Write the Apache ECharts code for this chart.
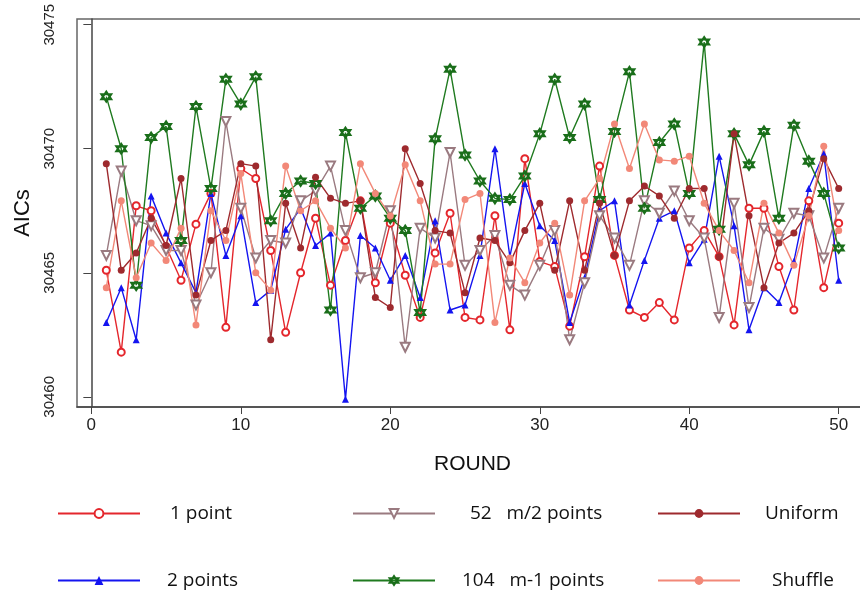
<!DOCTYPE html>
<html>
<head>
<meta charset="utf-8">
<script src="https://cdn.jsdelivr.net/npm/echarts@6/dist/echarts.min.js"></script>
<style>
  html, body { margin: 0; padding: 0; background: #fff; }
  #chart { width: 860px; height: 593px; }
</style>
</head>
<body>
<div id="chart"></div>
<script>
// Data
const rounds = [1, 2, 3, 4, 5, 6, 7, 8, 9, 10, 11, 12, 13, 14, 15, 16, 17, 18, 19, 20,
  21, 22, 23, 24, 25, 26, 27, 28, 29, 30, 31, 32, 33, 34, 35, 36, 37, 38, 39, 40,
  41, 42, 43, 44, 45, 46, 47, 48, 49, 50];

const onePoint = [30465.1, 30461.8, 30467.7, 30467.5, 30466.05, 30464.7, 30466.96, 30468.2, 30462.8, 30469.2,
  30468.8, 30465.9, 30462.6, 30465.0, 30467.2, 30464.5, 30466.3, 30467.9, 30464.6, 30467.0,
  30464.9, 30463.2, 30465.8, 30467.4, 30463.2, 30463.1, 30467.3, 30462.7, 30469.6, 30465.45,
  30465.25, 30462.85, 30465.65, 30469.3, 30465.7, 30463.5, 30463.2, 30463.8, 30463.1, 30466.0,
  30466.7, 30465.65, 30462.9, 30467.6, 30467.6, 30465.25, 30463.5, 30467.9, 30464.4, 30467.0];

const twoPoints = [30463.0, 30464.4, 30462.3, 30468.1, 30466.6, 30465.4, 30464.2, 30468.2, 30465.7, 30467.3,
  30463.8, 30464.3, 30466.75, 30467.6, 30466.1, 30466.6, 30459.9, 30466.5, 30466.0, 30464.7,
  30465.7, 30464.0, 30467.1, 30463.5, 30463.7, 30465.7, 30470.0, 30465.65, 30468.6, 30466.9,
  30466.3, 30463.0, 30464.8, 30467.5, 30467.9, 30463.7, 30465.5, 30467.2, 30467.5, 30465.4,
  30466.35, 30469.7, 30466.9, 30462.7, 30464.4, 30463.8, 30465.45, 30468.4, 30469.8, 30464.7];

const halfPoints = [30465.7, 30469.1, 30467.1, 30466.9, 30465.9, 30465.9, 30463.7, 30465.0, 30471.1, 30467.6,
  30465.6, 30466.3, 30466.2, 30467.9, 30468.3, 30469.3, 30466.7, 30464.8, 30465.0, 30467.5,
  30462.0, 30466.8, 30466.4, 30469.85, 30465.3, 30465.9, 30466.5, 30464.5, 30464.1, 30465.3,
  30466.7, 30462.3, 30464.6, 30467.3, 30466.4, 30465.3, 30467.9, 30467.4, 30468.3, 30467.1,
  30466.4, 30463.2, 30467.8, 30463.6, 30466.8, 30466.35, 30467.4, 30467.3, 30465.6, 30467.6];

const minusOnePoints = [30472.1, 30470.0, 30464.5, 30470.45, 30470.9, 30466.3, 30471.7, 30468.4, 30472.8, 30471.8,
  30472.9, 30467.1, 30468.2, 30468.7, 30468.6, 30463.5, 30470.65, 30467.6, 30468.1, 30467.2,
  30466.7, 30463.4, 30470.4, 30473.2, 30469.75, 30468.7, 30468.0, 30467.95, 30468.9, 30470.6,
  30472.8, 30470.45, 30471.8, 30467.95, 30470.7, 30473.1, 30467.6, 30470.25, 30471.0, 30468.2,
  30474.3, 30466.75, 30470.6, 30469.35, 30470.7, 30467.2, 30470.95, 30469.5, 30468.2, 30466.0];

const uniform = [30469.4, 30465.1, 30465.8, 30467.2, 30466.1, 30468.8, 30464.1, 30466.3, 30466.7, 30469.4,
  30469.3, 30462.3, 30467.8, 30466.0, 30468.85, 30468.0, 30467.8, 30467.9, 30464.0, 30463.6,
  30470.0, 30468.6, 30466.7, 30466.6, 30464.2, 30466.4, 30466.3, 30465.4, 30466.7, 30467.8,
  30465.1, 30467.9, 30465.1, 30467.8, 30465.7, 30467.9, 30468.5, 30468.1, 30467.2, 30468.4,
  30468.4, 30465.65, 30470.6, 30467.3, 30464.4, 30466.2, 30466.6, 30467.5, 30469.6, 30468.4];

const shuffle = [30464.4, 30467.9, 30464.8, 30466.2, 30465.5, 30466.8, 30462.9, 30467.5, 30466.3, 30469.0,
  30465.0, 30464.3, 30469.3, 30467.5, 30467.9, 30466.8, 30466.0, 30469.4, 30468.2, 30467.3,
  30469.35, 30467.9, 30465.35, 30465.35, 30467.95, 30468.2, 30463.0, 30465.6, 30464.6, 30466.2,
  30467.0, 30464.1, 30467.9, 30468.8, 30471.0, 30469.2, 30471.0, 30469.55, 30469.5, 30469.7,
  30467.8, 30466.7, 30465.9, 30464.6, 30467.8, 30466.6, 30465.3, 30467.3, 30470.1, 30466.7];

const xTicks = [0, 10, 20, 30, 40, 50];
const yTicks = [30460, 30465, 30470, 30475];

// Series names as in the legend
const names = ['1 point', '2 points', '52   m/2 points', '104   m-1 points', 'Uniform', 'Shuffle'];

// Star of David marker (two triangles)
const hexagram = 'path://M0,-10L8.66,5L-8.66,5Z M0,10L8.66,-5L-8.66,-5Z';

const chart = echarts.init(document.getElementById('chart'));

function pairs(values) {
  return rounds.map((r, i) => [r, values[i]]);
}

function lineSeries(name, values, color, symbol, extra) {
  return Object.assign({
    name: name,
    type: 'line',
    data: pairs(values),
    color: color,
    symbol: symbol,
    symbolSize: 7,
    showSymbol: true,
    lineStyle: { color: color, width: 1.4 },
    itemStyle: { color: color },
    emphasis: { disabled: true },
    z: 2
  }, extra || {});
}

// Legend blocks: one legend component per entry, placed like the original
function legendBlock(name, left, top, pad) {
  return {
    data: [name],
    left: left,
    top: top,
    itemWidth: 82,
    itemHeight: 11,
    selectedMode: false,
    textStyle: {
      fontFamily: 'Open Sans',
      fontSize: 19,
      color: '#111',
      padding: [0, 0, 0, pad]
    }
  };
}

const option = {
  animation: false,
  backgroundColor: '#fff',
  grid: {
    left: 77,
    top: 19,
    width: 791,   // the plot box runs a little past the right edge, as in the original
    height: 388,
    show: true,
    borderColor: '#666',
    borderWidth: 1.5,
    containLabel: false,
    outerBoundsMode: 'none'
  },
  legend: [
    legendBlock(names[0], 52, 499, 25),
    legendBlock(names[1], 52, 566, 22),
    legendBlock(names[2], 347, 499, 30),
    legendBlock(names[3], 347, 566, 22),
    legendBlock(names[4], 652, 499, 20),
    legendBlock(names[5], 652, 566, 27)
  ],
  xAxis: {
    type: 'value',
    min: -0.96,
    max: 51.96,
    name: 'ROUND',
    nameLocation: 'middle',
    nameGap: 47,
    nameTextStyle: { fontFamily: 'Liberation Sans', fontSize: 21, color: '#111' },
    axisLine: { show: true, lineStyle: { color: '#444', width: 1.5 } },
    axisTick: { show: true, length: 7, customValues: xTicks, lineStyle: { color: '#444' } },
    axisLabel: { customValues: xTicks, fontFamily: 'Liberation Sans', fontSize: 17, color: '#222', margin: 10 },
    splitLine: { show: false }
  },
  yAxis: {
    type: 'value',
    min: 30459.59,
    max: 30475.23,
    name: 'AICs',
    nameLocation: 'middle',
    nameGap: 41,
    nameRotate: 90,
    nameTextStyle: { fontFamily: 'Liberation Sans', fontSize: 22, color: '#111' },
    axisLine: { show: true, lineStyle: { color: '#444', width: 1.5 } },
    axisTick: { show: true, length: 8, customValues: yTicks, lineStyle: { color: '#444' } },
    axisLabel: {
      customValues: yTicks,
      rotate: 90,
      fontFamily: 'Liberation Sans',
      fontSize: 15,
      color: '#222',
      margin: 20,
      formatter: v => String(v)
    },
    splitLine: { show: false }
  },
  series: [
    lineSeries(names[0], onePoint, '#e4262c', 'emptyCircle'),
    lineSeries(names[1], twoPoints, '#1414f0', 'triangle'),
    lineSeries(names[2], halfPoints, '#9a7a80', 'emptyTriangle', { symbolRotate: 180, symbolSize: 9 }),
    lineSeries(names[3], minusOnePoints, '#1f7a1f', hexagram, {
      symbolSize: 10,
      itemStyle: { color: 'rgba(255,255,255,0)', borderColor: '#1a6e1a', borderWidth: 2 }
    }),
    lineSeries(names[4], uniform, '#9e2a2e', 'circle'),
    lineSeries(names[5], shuffle, '#f28878', 'circle')
  ]
};

chart.setOption(option);
</script>
</body>
</html>
